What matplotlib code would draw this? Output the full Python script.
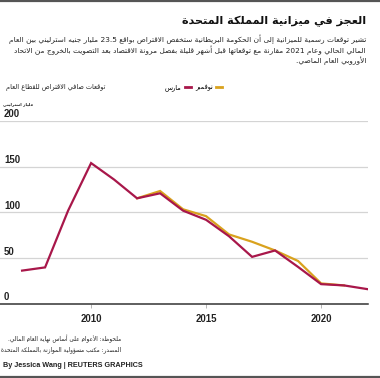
import re
import matplotlib
matplotlib.use("Agg")
import matplotlib.pyplot as plt
from matplotlib.lines import Line2D

# ---------------- data ----------------
years_march = [2007, 2008, 2009, 2010, 2011, 2012, 2013, 2014, 2015, 2016, 2017, 2018, 2019, 2020, 2021, 2022]
march = [36.5, 40, 102, 154, 136, 115.5, 121, 102, 92, 74, 51.5, 58.5, 40.5, 21.7, 20.3, 16.3]
years_nov = [2012, 2013, 2014, 2015, 2016, 2017, 2018, 2019, 2020, 2021]
november = [115.5, 123.5, 103.5, 96, 76, 68, 58.5, 47, 22.5, 20.3]
yticks = [0, 50, 100, 150, 200]
xticks = [2010, 2015, 2020]

title = "العجز في ميزانية المملكة المتحدة"
subtitle_lines = [
    "تشير توقعات رسمية للميزانية إلى أن الحكومة البريطانية ستخفض الاقتراض بواقع 23.5 مليار جنيه استرليني بين العام",
    "المالي الحالي وعام 2021 مقارنة مع توقعاتها قبل أشهر قليلة بفضل مرونة الاقتصاد بعد التصويت بالخروج من الاتحاد",
    "الأوروبي العام الماضي.",
]
chart_label = "توقعات صافي الاقتراض للقطاع العام"
unit_label = "مليار استرليني"
label_march = "مارس"
label_nov = "نوفمبر"
note = "ملحوظة: الأعوام على أساس نهاية العام المالي."
source = "المصدر: مكتب مسؤولية الموازنة بالمملكة المتحدة"
credit = "By Jessica Wang | REUTERS GRAPHICS"

# ---------------- simple Arabic shaping + RTL ordering ----------------
DUAL = {0x0626: 0xFE89, 0x0628: 0xFE8F, 0x062A: 0xFE95, 0x062B: 0xFE99, 0x062C: 0xFE9D,
        0x062D: 0xFEA1, 0x062E: 0xFEA5, 0x0633: 0xFEB1, 0x0634: 0xFEB5, 0x0635: 0xFEB9,
        0x0636: 0xFEBD, 0x0637: 0xFEC1, 0x0638: 0xFEC5, 0x0639: 0xFEC9, 0x063A: 0xFECD,
        0x0641: 0xFED1, 0x0642: 0xFED5, 0x0643: 0xFED9, 0x0644: 0xFEDD, 0x0645: 0xFEE1,
        0x0646: 0xFEE5, 0x0647: 0xFEE9, 0x064A: 0xFEF1}
RIGHT = {0x0622: 0xFE81, 0x0623: 0xFE83, 0x0624: 0xFE85, 0x0625: 0xFE87, 0x0627: 0xFE8D,
         0x0629: 0xFE93, 0x062F: 0xFEA9, 0x0630: 0xFEAB, 0x0631: 0xFEAD, 0x0632: 0xFEAF,
         0x0648: 0xFEED, 0x0649: 0xFEEF}
NONJ = {0x0621: 0xFE80}
LAMALEF = {0x0622: 0xFEF5, 0x0623: 0xFEF7, 0x0625: 0xFEF9, 0x0627: 0xFEFB}


def shape(s):
    cps = [ord(c) for c in s]
    out = []
    i, n = 0, len(cps)
    while i < n:
        cp = cps[i]
        prev_j = i > 0 and cps[i - 1] in DUAL
        if cp == 0x0644 and i + 1 < n and cps[i + 1] in LAMALEF:
            out.append(chr(LAMALEF[cps[i + 1]] + (1 if prev_j else 0)))
            i += 2
            continue
        nxt_j = i + 1 < n and (cps[i + 1] in DUAL or cps[i + 1] in RIGHT)
        if cp in DUAL:
            b = DUAL[cp]
            off = 3 if (prev_j and nxt_j) else 1 if prev_j else 2 if nxt_j else 0
            out.append(chr(b + off))
        elif cp in RIGHT:
            out.append(chr(RIGHT[cp] + (1 if prev_j else 0)))
        elif cp in NONJ:
            out.append(chr(NONJ[cp]))
        else:
            out.append(chr(cp))
        i += 1
    return "".join(out)


def ar(s):
    shaped = shape(s)
    toks = re.split(r"(\d+(?:\.\d+)?)", shaped)
    vis = []
    for t in reversed(toks):
        if re.fullmatch(r"\d+(?:\.\d+)?", t):
            vis.append(t)
        else:
            vis.append(t[::-1])
    return "".join(vis)


# ---------------- figure ----------------
W, H = 380, 378
fig = plt.figure(figsize=(W / 100, H / 100), dpi=100)
fig.patch.set_facecolor("white")
renderer = fig.canvas.get_renderer()

AR_FONT = "DejaVu Sans"
EN_FONT = "Liberation Sans"
TXT = "#222222"


def fx(px):
    return px / W


def fy(py):
    return 1 - py / H


def fit(t, target_px):
    w = t.get_window_extent(renderer).width
    t.set_fontsize(t.get_fontsize() * target_px / w)
    return t.get_fontsize()


# frame lines top & bottom
fig.add_artist(Line2D([0, 1], [fy(0.8), fy(0.8)], color="#555555", lw=1.6))
fig.add_artist(Line2D([0, 1], [fy(377.2), fy(377.2)], color="#555555", lw=1.6))

t = fig.text(fx(366), fy(21.5), ar(title), ha="right", va="center", fontsize=10,
             fontweight="bold", family=AR_FONT, color="#111111")
fit(t, 186)

t0 = fig.text(fx(366), fy(39.5), ar(subtitle_lines[0]), ha="right", va="center",
              fontsize=5.3, family=AR_FONT, color=TXT)
sub_fs = fit(t0, 361)
for k, line in enumerate(subtitle_lines[1:], start=1):
    fig.text(fx(366), fy(39.5 + 10.8 * k), ar(line), ha="right", va="center",
             fontsize=sub_fs, family=AR_FONT, color=TXT)

t = fig.text(fx(105), fy(87.5), ar(chart_label), ha="right", va="center", fontsize=5,
             family=AR_FONT, color=TXT)
fit(t, 101)
t = fig.text(fx(3), fy(104), ar(unit_label), ha="left", va="center", fontsize=4,
             fontweight="bold", family=AR_FONT, color=TXT)
fit(t, 30)

# ---------------- axes ----------------
ax_left, ax_right, ax_top, ax_bot = 0, 368, 121, 304
ax = fig.add_axes([fx(ax_left), fy(ax_bot), fx(ax_right - ax_left), (ax_bot - ax_top) / H])
ax.set_facecolor("none")
c_march = "#A8174A"
c_nov = "#D9A21E"
ax.plot(years_nov, november, color=c_nov, lw=1.6, solid_joinstyle="miter", zorder=3)
ax.plot(years_march, march, color=c_march, lw=1.6, solid_joinstyle="miter", zorder=4)
ax.set_xlim(2006.04, 2022.04)
ax.set_ylim(0, 200)
for s in ax.spines.values():
    s.set_visible(False)
for v in yticks:
    if v == 0:
        ax.axhline(v, color="#333333", lw=1.1, zorder=2, clip_on=False)
    else:
        ax.axhline(v, color="#d4d4d4", lw=0.9, zorder=1)
    ax.annotate(str(v), xy=(0, v), xycoords=("axes fraction", "data"),
                xytext=(4, 1.5), textcoords="offset pixels", ha="left", va="bottom",
                fontsize=6.9, fontweight="bold", family=EN_FONT, color=TXT)
ax.set_yticks([])
ax.set_xticks(xticks)
ax.set_xticklabels([str(x) for x in xticks], fontsize=6.9, fontweight="bold",
                   family=EN_FONT, color=TXT)
ax.tick_params(axis="x", length=3, width=0.6, color="#aaaaaa", pad=4.5)

# legend (RTL: text left of the swatch)
tm = fig.text(0, 0, ar(label_march), fontsize=5, family=AR_FONT)
leg_fs = fit(tm, 17)
tm.remove()
handles = [Line2D([], [], color=c_march, lw=2), Line2D([], [], color=c_nov, lw=2)]
leg = fig.legend(handles, [ar(label_march), ar(label_nov)], loc="center",
                 bbox_to_anchor=(fx(193.5), fy(87.5)), ncol=2, frameon=False,
                 markerfirst=False, handlelength=0.9, handletextpad=0.5,
                 columnspacing=0.6, prop={"family": AR_FONT, "size": leg_fs})

tn = fig.text(fx(121), fy(338.5), ar(note), ha="right", va="center", fontsize=4.6,
              family=AR_FONT, color=TXT)
ts = fig.text(fx(121), fy(349.5), ar(source), ha="right", va="center", fontsize=4.6,
              family=AR_FONT, color=TXT)
fs_n = fit(tn, 117)
fs_s = fit(ts, 118)
fs_ns = min(fs_n, fs_s)
tn.set_fontsize(fs_ns)
ts.set_fontsize(fs_ns)
t = fig.text(fx(3), fy(365.5), credit, ha="left", va="center", fontsize=6.4,
             fontweight="bold", family=EN_FONT, color=TXT)
fit(t, 140)

fig.savefig("out.png", dpi=100, facecolor="white")
